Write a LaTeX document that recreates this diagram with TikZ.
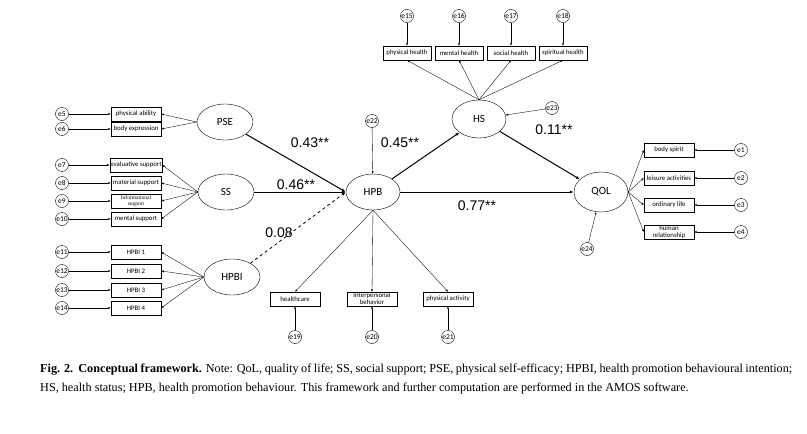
\documentclass[tikz,border=0pt]{standalone}
\usepackage{fontspec}
\setmainfont{Liberation Serif}
\newfontfamily\calfnt{Carlito}
\newfontfamily\arialfnt{Liberation Sans}
\usetikzlibrary{shapes.geometric,arrows.meta}
\begin{document}
\begin{tikzpicture}[x=1pt,y=-1pt,
  lat/.style={ellipse,draw,line width=0.4pt,minimum width=56pt,minimum height=36pt,inner sep=0pt,font=\calfnt\fontsize{11}{12}\selectfont},
  obs/.style={draw,line width=0.4pt,minimum width=50pt,minimum height=14pt,inner sep=0.5pt,align=center,font=\calfnt\fontsize{6.8}{6.8}\selectfont},
  err/.style={circle,draw,line width=0.4pt,minimum size=13pt,inner sep=0pt,font=\calfnt\fontsize{7.5}{7.5}\selectfont},
  thin/.style={draw,line width=0.35pt,-{Latex[length=2.5pt,width=2pt]}},
  path/.style={draw,line width=1pt,-{Latex[length=4pt,width=3pt]}},
  coef/.style={font=\arialfnt\fontsize{14}{14}\selectfont}]
\useasboundingbox (0,0) rectangle (807,434);
\node[lat] (PSE) at (225,122) {PSE};
\node[lat] (SS) at (226,192) {SS};
\node[lat] (HPBI) at (232,277) {HPBI};
\node[lat,minimum width=54pt] (HPB) at (373,192) {HPB};
\node[lat,minimum width=54pt,minimum height=38pt] (HS) at (479,119) {HS};
\node[lat,minimum width=54pt,minimum height=40pt] (QOL) at (601,192) {QOL};
% left indicators
\foreach \n/\y/\t/\e in {a/114/physical ability/e5, b/129/body expression/e6, c/165/evaluative support/e7, d/183/material support/e8, f/219/mental support/e10, g/252/HPBI 1/e11, h/271/HPBI 2/e12, i/290/HPBI 3/e13, j/308/HPBI 4/e14}{
  \node[obs] (\n) at (136,\y) {\t};
  \node[err] (\n e) at (62,\y) {\e};
  \draw[thin] (\n e) -- (\n);
}
\node[obs,font=\fontsize{5.5}{6}\selectfont] (k) at (136,201) {Informational\\support};
\node[err] (ke) at (62,201) {e9};
\draw[thin] (ke) -- (k);
\foreach \n in {a,b}{\draw[thin] (PSE.west) -- (\n.east);}
\foreach \n in {c,d,k,f}{\draw[thin] (SS.west) -- (\n.east);}
\foreach \n in {g,h,i,j}{\draw[thin] (HPBI.west) -- (\n.east);}
% top indicators
\foreach \n/\x/\t/\e in {p/407/physical health/e15, q/459/mental health/e16, r/511/social health/e17, s/563/spiritual health/e18}{
  \node[obs,minimum width=48pt] (\n) at (\x,53) {\t};
  \node[err] (\n e) at (\x,16) {\e};
  \draw[thin] (\n e) -- (\n);
  \draw[thin] (HS.north) -- (\n.south);
}
% right indicators
\foreach \n/\y/\t/\e in {u/150/body spirit/e1, v/178/leisure activities/e2, w/205/ordinary life/e3}{
  \node[obs] (\n) at (669,\y) {\t};
  \node[err] (\n e) at (741,\y) {\e};
  \draw[thin] (\n e) -- (\n);
  \draw[thin] (QOL.east) -- (\n.west);
}
\node[obs] (x) at (669,232) {human\\relationship};
\node[err] (xe) at (741,232) {e4};
\draw[thin] (xe) -- (x);
\draw[thin] (QOL.east) -- (x.west);
% bottom indicators
\foreach \n/\x/\t/\e in {l/295/healthcare/e19, m/448/physical activity/e21}{
  \node[obs] (\n) at (\x,299) {\t};
  \node[err] (\n e) at (\x,337) {\e};
  \draw[thin] (\n e) -- (\n);
  \draw[thin] (HPB.south) -- (\n.north);
}
\node[obs] (o) at (372,299) {Interpersonal\\behavior};
\node[err] (oe) at (372,337) {e20};
\draw[thin] (oe) -- (o);
\draw[thin] (HPB.south) -- (o.north);
% disturbance
\node[err] (e22) at (372,121) {e22};
\node[err] (e23) at (552,108) {e23};
\node[err] (e24) at (587,249) {e24};
\draw[thin] (e22) -- (HPB);
\draw[thin] (e23) -- (HS);
\draw[thin] (e24) -- (QOL);
% structural paths
\draw[path] (PSE) -- (HPB.west);
\draw[path] (SS) -- (HPB.west);
\draw[path,dashed,line width=0.8pt] (HPBI) -- (HPB.west);
\draw[path] (HPB) -- (HS);
\draw[path] (HS) -- (QOL);
\draw[path] (HPB) -- (QOL);
\node[coef] at (310,143) {0.43**};
\node[coef] at (296,185) {0.46**};
\node[coef] at (279,233) {0.08};
\node[coef] at (400,143) {0.45**};
\node[coef] at (554,130) {0.11**};
\node[coef] at (477,206) {0.77**};
% caption
\node[anchor=north west,text width=752pt,align=justify,inner sep=0pt,font=\fontsize{12.2}{18.5}\selectfont] (cap) at (40,364)
{\textbf{Fig. 2.\ \ Conceptual framework.} Note: QoL, quality of life; SS, social support; PSE, physical self-efficacy; HPBI, health promotion behavioural intention; HS, health status; HPB, health promotion behaviour. This framework and further computation are performed in the AMOS software.};
\end{tikzpicture}
\end{document}
